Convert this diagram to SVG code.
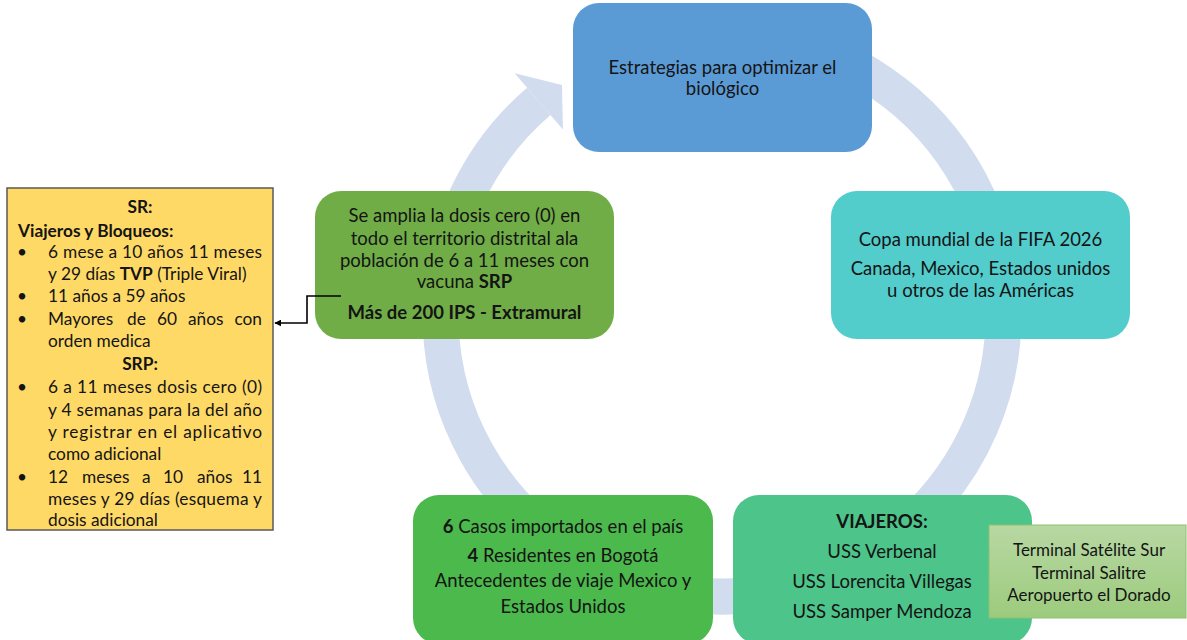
<svg xmlns="http://www.w3.org/2000/svg" width="1187" height="640" viewBox="0 0 1187 640">
<defs>
<style>
.t{font-family:Lato,"Liberation Sans",sans-serif;font-size:18.5px;fill:#141414;text-anchor:middle}
.s{font-size:17px}
.y{font-family:Lato,"Liberation Sans",sans-serif;font-size:17.3px;fill:#141414}
.b{font-weight:bold}
.c{text-anchor:middle}
.e{text-anchor:end}
</style>
<linearGradient id="gg" x1="0" y1="0" x2="0" y2="1">
<stop offset="0" stop-color="#B8D8A3"/>
<stop offset="1" stop-color="#9CCB7D"/>
</linearGradient>
<marker id="ah" viewBox="0 0 10 10" refX="9" refY="5" markerWidth="7" markerHeight="7" orient="auto-start-reverse" markerUnits="userSpaceOnUse">
<path d="M0,0 L10,5 L0,10 z" fill="#000"/>
</marker>
</defs>
<rect width="1187" height="640" fill="#fff"/>

<g id="cycle-ring">
<path d="M770.9,37.8 A281.5,281.5 0 1 1 538.8,101.3" fill="none" stroke="#D1DCEF" stroke-width="36"/>
<polygon points="514.7,73.2 562,85 562.9,129.4" fill="#D1DCEF"/>
</g>

<g id="node-top">
<rect x="573" y="3" width="299" height="149" rx="26" fill="#5B9BD5"/>
<text class="t" x="722.5" y="74">Estrategias para optimizar el</text>
<text class="t" x="722.5" y="95">biológico</text>
</g>

<g id="node-right">
<rect x="831" y="191" width="299" height="148" rx="26" fill="#53CCCC"/>
<text class="t" x="980.5" y="246">Copa mundial de la FIFA 2026</text>
<text class="t" x="980.5" y="275">Canada, Mexico, Estados unidos</text>
<text class="t" x="980.5" y="297">u otros de las Américas</text>
</g>

<g id="node-left">
<rect x="315" y="191" width="299" height="148" rx="26" fill="#70AD47"/>
<text class="t" x="464.5" y="222">Se amplia la dosis cero (0) en</text>
<text class="t" x="464.5" y="245">todo el territorio distrital ala</text>
<text class="t" x="464.5" y="267">población de 6 a 11 meses con</text>
<text class="t" x="464.5" y="288">vacuna <tspan class="b">SRP</tspan></text>
<text class="t b" x="464.5" y="319">Más de 200 IPS - Extramural</text>
</g>

<g id="node-bottom-left">
<rect x="413" y="495" width="300" height="149" rx="26" fill="#4CB94D"/>
<text class="t" x="563" y="533"><tspan class="b">6</tspan> Casos importados en el país</text>
<text class="t" x="563" y="562"><tspan class="b">4</tspan> Residentes en Bogotá</text>
<text class="t" x="563" y="587">Antecedentes de viaje Mexico y</text>
<text class="t" x="563" y="613">Estados Unidos</text>
</g>

<g id="node-bottom-right">
<rect x="733" y="495" width="299" height="149" rx="26" fill="#4DC48A"/>
<text class="t b" x="882" y="528">VIAJEROS:</text>
<text class="t" x="882" y="558">USS Verbenal</text>
<text class="t" x="882" y="588">USS Lorencita Villegas</text>
<text class="t" x="882" y="618">USS Samper Mendoza</text>
</g>

<g id="node-terminals">
<rect x="989" y="525" width="197" height="93" fill="url(#gg)" stroke="#8EC070" stroke-width="1"/>
<text class="t s" x="1089" y="556">Terminal Satélite Sur</text>
<text class="t s" x="1089" y="579">Terminal Salitre</text>
<text class="t s" x="1089" y="601">Aeropuerto el Dorado</text>
</g>

<g id="node-sr">
<rect x="7" y="188" width="266" height="342" fill="#FFD966" stroke="#5A5A5A" stroke-width="1.5"/>
<text class="y b c" x="140" y="213">SR:</text>
<text class="y b" x="18" y="237">Viajeros y Bloqueos:</text>
<text class="y" x="17" y="258">•</text>
<text class="y" x="48" y="258" textLength="214" lengthAdjust="spacing">6 mese a 10 años 11 meses</text>
<text class="y" x="48" y="280">y 29 días <tspan class="b">TVP</tspan> (Triple Viral)</text>
<text class="y" x="17" y="302">•</text>
<text class="y" x="48" y="302">11 años a 59 años</text>
<text class="y" x="17" y="325">•</text>
<text class="y" y="325"><tspan x="48">Mayores</tspan><tspan x="127">de</tspan><tspan x="157">60</tspan><tspan x="188">años</tspan></text>
<text class="y e" x="262" y="325">con</text>
<text class="y" x="48" y="347">orden medica</text>
<text class="y b c" x="140" y="370">SRP:</text>
<text class="y" x="17" y="393">•</text>
<text class="y" x="48" y="393" textLength="214" lengthAdjust="spacing">6 a 11 meses dosis cero (0)</text>
<text class="y" x="48" y="416" textLength="214" lengthAdjust="spacing">y 4 semanas para la del año</text>
<text class="y" x="48" y="438" textLength="214" lengthAdjust="spacing">y registrar en el aplicativo</text>
<text class="y" x="48" y="460">como adicional</text>
<text class="y" x="17" y="483">•</text>
<text class="y" y="483"><tspan x="48">12</tspan><tspan x="82">meses</tspan><tspan x="142">a</tspan><tspan x="163">10</tspan><tspan x="197">años</tspan></text>
<text class="y e" x="262" y="483">11</text>
<text class="y" x="48" y="505" textLength="214" lengthAdjust="spacing">meses y 29 días (esquema y</text>
<text class="y" x="48" y="526">dosis adicional</text>
</g>

<g id="connectors">
<polyline points="341,296 307,296 307,323 275,323" fill="none" stroke="#000" stroke-width="1.6" marker-end="url(#ah)"/>
</g>
</svg>
